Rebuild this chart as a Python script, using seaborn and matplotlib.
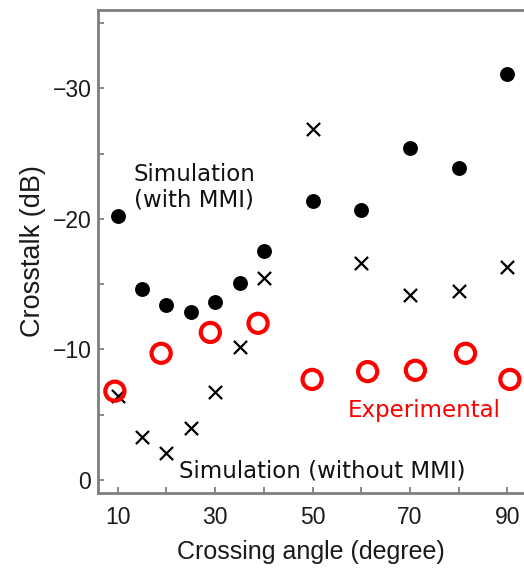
import matplotlib
matplotlib.use("Agg")
import matplotlib.pyplot as plt
import seaborn as sns
import pandas as pd
from matplotlib.ticker import MultipleLocator

# Data
angle_mmi = [10, 15, 20, 25, 30, 35, 40, 50, 60, 70, 80, 90]
xt_mmi = [-20.2, -14.6, -13.4, -12.9, -13.6, -15.1, -17.5, -21.4, -20.7, -25.4, -23.9, -31.1]

angle_nommi = [10, 15, 20, 25, 30, 35, 40, 50, 60, 70, 80, 90]
xt_nommi = [-6.4, -3.3, -2.1, -4.0, -6.75, -10.2, -15.5, -26.9, -16.6, -14.2, -14.5, -16.3]

angle_exp = [9.4, 18.9, 29.0, 38.8, 49.9, 61.3, 71.1, 81.4, 90.5]
xt_exp = [-6.8, -9.7, -11.3, -12.0, -7.7, -8.3, -8.4, -9.7, -7.7]

xticks = [10, 30, 50, 70, 90]
yticks = [0, -10, -20, -30]
ytick_labels = ["0", "\u221210", "\u221220", "\u221230"]

sns.set_theme(style="white")
plt.rcParams['font.family'] = ['Liberation Sans', 'DejaVu Sans']

fig = plt.figure(figsize=(5.24, 5.69), dpi=100)
ax = fig.add_axes([98.3/524, 1 - 493/569, 1 - 98.3/524, (493 - 10)/569])

df_nommi = pd.DataFrame({"angle": angle_nommi, "xt": xt_nommi})
df_mmi = pd.DataFrame({"angle": angle_mmi, "xt": xt_mmi})
df_exp = pd.DataFrame({"angle": angle_exp, "xt": xt_exp})

sns.scatterplot(data=df_nommi, x="angle", y="xt", marker="x", color="black",
                s=90, linewidth=1.6, ax=ax, zorder=2)
sns.scatterplot(data=df_mmi, x="angle", y="xt", marker="o", color="black",
                s=115, edgecolor="black", linewidth=0, ax=ax, zorder=3)
sns.scatterplot(data=df_exp, x="angle", y="xt", marker="o", facecolor="none",
                edgecolor="#ff0000", s=190, linewidth=3.0, ax=ax, zorder=4)

ax.set_xlim(6, 93.4)
ax.set_ylim(1, -36)
ax.set_xticks(xticks)
ax.set_yticks(yticks)
ax.set_yticklabels(ytick_labels)
ax.xaxis.set_minor_locator(MultipleLocator(10))
ax.yaxis.set_minor_locator(MultipleLocator(5))

spine_col = "#7f7f7f"
for side in ["left", "bottom", "top"]:
    ax.spines[side].set_color(spine_col)
    ax.spines[side].set_linewidth(2)
ax.spines["right"].set_visible(False)

ax.tick_params(axis="both", which="both", direction="in", color=spine_col,
               width=1.3, length=4.5, labelsize=16.5, labelcolor="#1a1a1a")
ax.tick_params(axis="x", which="both", bottom=True, top=False, pad=9)
ax.tick_params(axis="y", which="both", left=True, right=False, pad=5)

ax.set_xlabel("Crossing angle (degree)", fontsize=18, color="#1a1a1a", labelpad=8)
ax.set_ylabel("Crosstalk (dB)", fontsize=19.5, color="#1a1a1a", labelpad=5)

ax.text(13.3, -22.9, "Simulation", fontsize=16.5, color="#111111",
        family="DejaVu Sans", ha="left", va="baseline")
ax.text(13.3, -20.95, "(with MMI)", fontsize=16.5, color="#111111",
        family="DejaVu Sans", ha="left", va="baseline")
ax.text(22.5, -0.2, "Simulation (without MMI)", fontsize=16.5, color="#111111",
        family="DejaVu Sans", ha="left", va="baseline")
ax.text(57.2, -4.83, "Experimental", fontsize=16.5, color="#ff0000",
        family="DejaVu Sans", ha="left", va="baseline")

fig.savefig("out.png", dpi=100)
